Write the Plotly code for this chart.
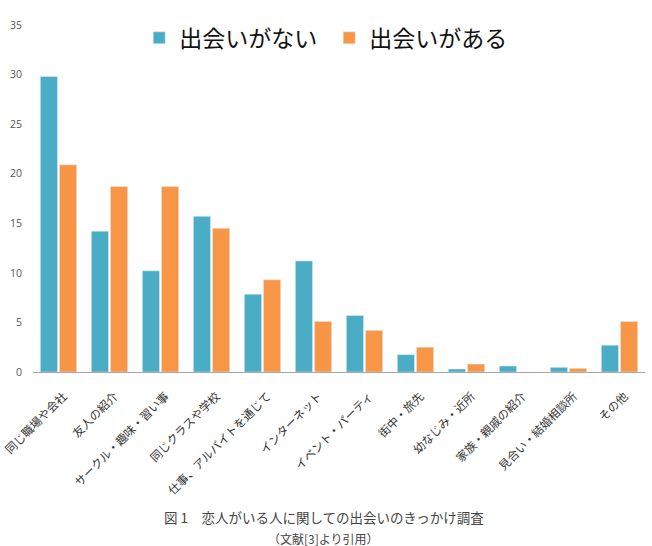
import plotly.graph_objects as go

categories = ["同じ職場や会社", "友人の紹介", "サークル・趣味・習い事", "同じクラスや学校",
              "仕事、アルバイトを通じて", "インターネット", "イベント・パーティ", "街中・旅先",
              "幼なじみ・近所", "家族・親戚の紹介", "見合い・結婚相談所", "その他"]
no_meet = [29.8, 14.2, 10.2, 15.7, 7.85, 11.2, 5.7, 1.75, 0.3, 0.6, 0.47, 2.7]
has_meet = [20.9, 18.7, 18.7, 14.5, 9.3, 5.1, 4.2, 2.5, 0.8, 0.0, 0.37, 5.1]
series_names = ["出会いがない", "出会いがある"]
y_ticks = [0, 5, 10, 15, 20, 25, 30, 35]
caption = "図 1　恋人がいる人に関しての出会いのきっかけ調査"
source = "（文献[3]より引用）"

fig = go.Figure()
fig.add_trace(go.Bar(x=categories, y=no_meet, name=series_names[0], marker_color="#4BACC6"))
fig.add_trace(go.Bar(x=categories, y=has_meet, name=series_names[1], marker_color="#F79646"))

fig.update_layout(
    width=652, height=546,
    margin=dict(l=33, r=7, t=25, b=174, autoexpand=False),
    paper_bgcolor="white", plot_bgcolor="white",
    barmode="group", bargap=0.25, bargroupgap=0.1,
    font=dict(family="Noto Sans CJK JP", color="#222"),
    legend=dict(orientation="h", x=0.484, xanchor="center", y=0.963, yanchor="middle",
                font=dict(size=23, color="#111", family="Noto Sans CJK JP"),
                entrywidth=145, bgcolor="rgba(0,0,0,0)"),
    showlegend=True,
    xaxis=dict(tickangle=-45, tickfont=dict(size=11.6, color="#333", family="Noto Sans CJK JP"),
               showline=True, linecolor="#a6a6a6", linewidth=1, ticks="", showgrid=False,
               automargin=False, ticklabelstandoff=12, ticklabelshift=5),
    yaxis=dict(range=[0, 35], tickvals=y_ticks, showgrid=False, zeroline=False,
               tickfont=dict(size=10.5, color="#555", family="Open Sans"), ticks="",
               automargin=False, ticklabelstandoff=10),
    annotations=[
        dict(text=caption, x=0.475, y=-0.418, xref="paper", yref="paper", showarrow=False,
             xanchor="center", yanchor="middle",
             font=dict(size=13.5, color="#444", family="Noto Sans CJK JP")),
        dict(text=source, x=0.475, y=-0.48, xref="paper", yref="paper", showarrow=False,
             xanchor="center", yanchor="middle",
             font=dict(size=12, color="#444", family="Noto Sans CJK JP")),
    ],
)

fig.write_html("out.html")
